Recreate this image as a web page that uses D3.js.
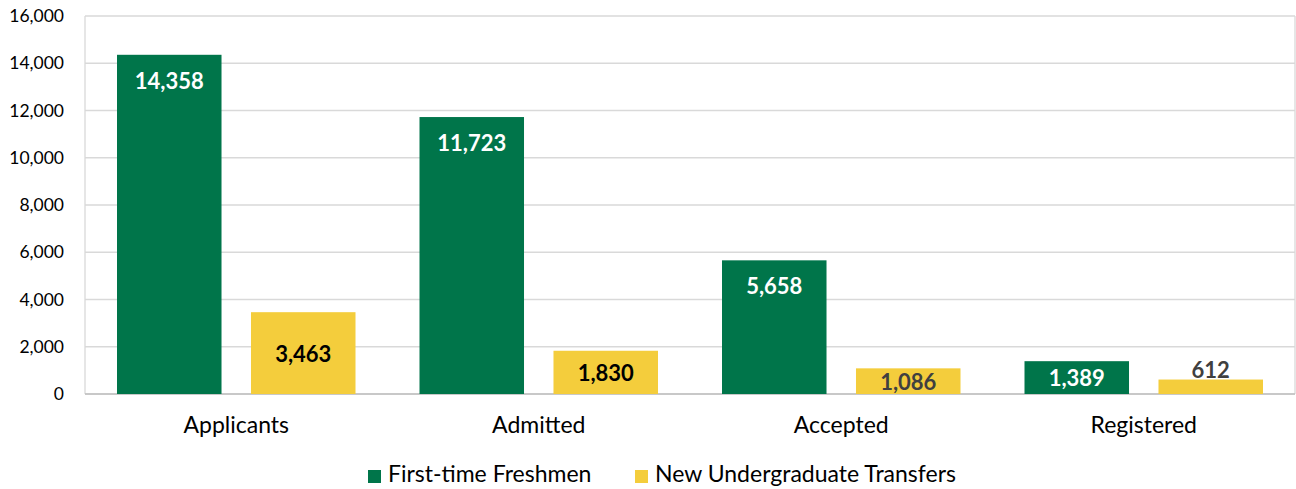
<!DOCTYPE html>
<html>
<head>
<meta charset="utf-8">
<script src="https://cdn.jsdelivr.net/npm/d3@7"></script>
<style>
  body { margin: 0; background: #fff; }
  svg text { font-family: Lato, "Open Sans", "Noto Sans", sans-serif; }
</style>
</head>
<body>
<div id="chart"></div>
<script>
var categories = ["Applicants", "Admitted", "Accepted", "Registered"];
var seriesNames = ["First-time Freshmen", "New Undergraduate Transfers"];
var freshmen = [14358, 11723, 5658, 1389];
var transfers = [3463, 1830, 1086, 612];
var yTicks = [0, 2000, 4000, 6000, 8000, 10000, 12000, 14000, 16000];

var W = 1296, H = 489;
var margin = { top: 16, right: 1, bottom: 95, left: 85 };
var iW = W - margin.left - margin.right;
var iH = H - margin.top - margin.bottom;

var GREEN = "#00754a", YELLOW = "#f4cd3c";

var svg = d3.select("#chart").append("svg")
    .attr("width", W).attr("height", H)
    .append("g")
    .attr("transform", "translate(" + margin.left + "," + margin.top + ")");

var x0 = d3.scaleBand().domain(categories).range([0, iW]).paddingInner(0).paddingOuter(0);
var x1 = d3.scaleBand().domain(seriesNames).range([32, x0.bandwidth() - 32]).paddingInner(0.22);
var y = d3.scaleLinear().domain([0, 16000]).range([iH, 0]);

// gridlines
svg.append("g").selectAll("line").data(yTicks).enter().append("line")
    .attr("x1", 0).attr("x2", iW)
    .attr("y1", function (d) { return y(d); }).attr("y2", function (d) { return y(d); })
    .attr("stroke", "#d9d9d9").attr("stroke-width", 1.3);

// side borders
svg.append("line").attr("x1", 0).attr("x2", 0).attr("y1", 0).attr("y2", iH)
    .attr("stroke", "#d9d9d9").attr("stroke-width", 1.3);
svg.append("line").attr("x1", iW).attr("x2", iW).attr("y1", 0).attr("y2", iH)
    .attr("stroke", "#d9d9d9").attr("stroke-width", 1.3);

// y axis
var yAxis = svg.append("g")
    .call(d3.axisLeft(y).tickValues(yTicks).tickSize(0).tickPadding(21).tickFormat(d3.format(",")));
yAxis.select(".domain").remove();
yAxis.selectAll("text").style("font-size", "17.5px").style("fill", "#000");

// bottom axis line
svg.append("line").attr("x1", 0).attr("x2", iW).attr("y1", iH).attr("y2", iH)
    .attr("stroke", "#bfbfbf").attr("stroke-width", 1.5);

// category labels
svg.append("g").selectAll("text").data(categories).enter().append("text")
    .attr("x", function (d) { return x0(d) + x0.bandwidth() / 2; })
    .attr("y", iH + 39)
    .attr("text-anchor", "middle")
    .style("font-size", "23px").style("fill", "#000")
    .text(function (d) { return d; });

var rows = categories.map(function (c, i) {
    return { cat: c, vals: [freshmen[i], transfers[i]] };
});

var groups = svg.selectAll(".grp").data(rows).enter().append("g")
    .attr("class", "grp")
    .attr("transform", function (d) { return "translate(" + x0(d.cat) + ",0)"; });

groups.selectAll("rect").data(function (d) {
    return d.vals.map(function (v, k) { return { s: seriesNames[k], k: k, v: v }; });
}).enter().append("rect")
    .attr("x", function (d) { return x1(d.s); })
    .attr("width", x1.bandwidth())
    .attr("y", function (d) { return y(d.v); })
    .attr("height", function (d) { return iH - y(d.v); })
    .attr("fill", function (d) { return d.k === 0 ? GREEN : YELLOW; });

// value labels
var yellowColors = ["#000", "#000", "#404040", "#404040"];
groups.each(function (d, gi) {
    var g = d3.select(this);
    // freshmen: inside end
    var v0 = d.vals[0];
    var top0 = y(v0), h0 = iH - top0;
    var ly0 = h0 > 50 ? top0 + 34 : top0 + h0 / 2 + 8;
    g.append("text")
        .attr("x", x1(seriesNames[0]) + x1.bandwidth() / 2)
        .attr("y", ly0)
        .attr("text-anchor", "middle")
        .style("font-size", "22px").style("font-weight", "bold").style("fill", "#fff")
        .text(d3.format(",")(v0));
    // transfers: centered, or above when too short
    var v1 = d.vals[1];
    var top1 = y(v1), h1 = iH - top1;
    var ly1 = h1 > 22 ? top1 + h1 / 2 + 8.5 : top1 - 1.5;
    g.append("text")
        .attr("x", x1(seriesNames[1]) + x1.bandwidth() / 2)
        .attr("y", ly1)
        .attr("text-anchor", "middle")
        .style("font-size", "22px").style("font-weight", "bold").style("fill", yellowColors[gi])
        .text(d3.format(",")(v1));
});

// legend
var legend = svg.append("g").attr("transform", "translate(" + (368 - margin.left) + "," + (iH + 76) + ")");
var legendX = [0, 267];
seriesNames.forEach(function (s, i) {
    var lg = legend.append("g").attr("transform", "translate(" + legendX[i] + ",0)");
    lg.append("rect").attr("width", 13).attr("height", 13)
        .attr("fill", i === 0 ? GREEN : YELLOW);
    lg.append("text").attr("x", 20).attr("y", 12)
        .style("font-size", "23px").style("fill", "#000")
        .text(s);
});
</script>
</body>
</html>
